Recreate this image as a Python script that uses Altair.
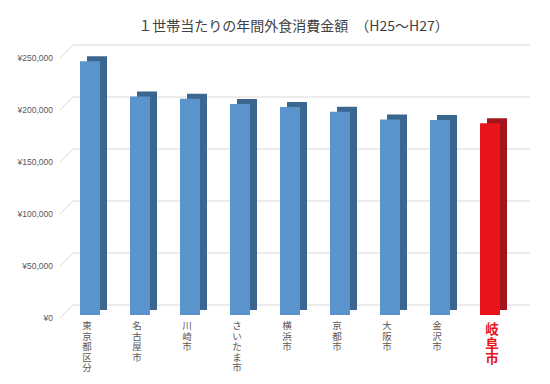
import altair as alt
import pandas as pd

cities = ["東京都区分", "名古屋市", "川崎市", "さいたま市", "横浜市", "京都市", "大阪市", "金沢市", "岐阜市"]
values = [244000, 210000, 208000, 203000, 200000, 195500, 188000, 187500, 184300]
highlight = [False, False, False, False, False, False, False, False, True]
ticks = [0, 50000, 100000, 150000, 200000, 250000]
tick_labels = ["¥0", "¥50,000", "¥100,000", "¥150,000", "¥200,000", "¥250,000"]
title_text = "１世帯当たりの年間外食消費金額　（H25～H27）"

df = pd.DataFrame({"city": cities, "value": values, "hl": highlight})
rows = []
for c, h in zip(cities, highlight):
    for i, ch in enumerate(c):
        rows.append({"city": c, "hl": h, "i": i, "ch": ch})
cdf = pd.DataFrame(rows)
tdf = pd.DataFrame({"v": ticks, "lab": tick_labels})

ysc = alt.Scale(domain=[0, 250000], nice=False, zero=True)
xsc = alt.Scale(domain=cities, paddingInner=0.6, paddingOuter=0.3)

base = alt.Chart(df)
tb = alt.Chart(tdf)
cb = alt.Chart(cdf)

grid = tb.mark_rule(color="#d9d9d9", strokeWidth=1, yOffset=-10).encode(
    y=alt.Y("v:Q", scale=ysc, axis=None),
    x=alt.value(8), x2=alt.value(465),
)
diag = tb.mark_rule(color="#d9d9d9", strokeWidth=1, yOffset=3, y2Offset=-10).encode(
    y=alt.Y("v:Q", scale=ysc, axis=None),
    y2=alt.Y2("v"),
    x=alt.value(-5), x2=alt.value(8),
)
ylabels = tb.mark_text(align="right", baseline="middle", fontSize=8.5, color="#595959",
                       font="Liberation Sans", dy=3).encode(
    y=alt.Y("v:Q", scale=ysc, axis=None),
    x=alt.value(-12),
    text="lab:N",
)

color_side = alt.condition("datum.hl", alt.value("#a3151b"), alt.value("#3a6690"))
color_front = alt.condition("datum.hl", alt.value("#e8131b"), alt.value("#5b93cc"))

side = base.mark_bar(xOffset=7, yOffset=-5, y2Offset=-5).encode(
    x=alt.X("city:N", scale=xsc, axis=None, sort=cities),
    y=alt.Y("value:Q", scale=ysc, axis=None),
    y2=alt.datum(0),
    color=color_side,
)
front = base.mark_bar().encode(
    x=alt.X("city:N", scale=xsc, axis=None, sort=cities),
    y=alt.Y("value:Q", scale=ysc, axis=None),
    y2=alt.datum(0),
    color=color_front,
)

xl_norm = cb.transform_filter("!datum.hl").mark_text(
    align="center", baseline="top", fontSize=9.5, color="#595959",
    font="Noto Sans CJK JP", dx=-3).encode(
    x=alt.X("city:N", scale=xsc, axis=None, sort=cities),
    y=alt.Y("i:Q", scale=alt.Scale(domain=[0, 10], range=[266, 371]), axis=None),
    text="ch:N",
)
xl_hl = cb.transform_filter("datum.hl").mark_text(
    align="center", baseline="top", fontSize=13.5, color="#e8131b", fontWeight="bold",
    font="Noto Sans CJK JP", dx=2).encode(
    x=alt.X("city:N", scale=xsc, axis=None, sort=cities),
    y=alt.Y("i:Q", scale=alt.Scale(domain=[0, 10], range=[268, 413]), axis=None),
    text="ch:N",
)

title = alt.Chart(pd.DataFrame({"t": [title_text]})).mark_text(
    align="center", baseline="middle", fontSize=14, color="#404040",
    font="Noto Sans CJK JP").encode(
    x=alt.value(228.5), y=alt.value(-28), text="t:N",
)

chart = alt.layer(grid, diag, ylabels, side, front, xl_norm, xl_hl, title).resolve_scale(
    y="independent"
).properties(
    width=450, height=260,
    padding={"left": 57, "top": 47, "right": 27, "bottom": 61},
    autosize="none",
).configure_view(stroke=None)

chart.save("out.html", embed_options={"renderer": "svg", "actions": False})
